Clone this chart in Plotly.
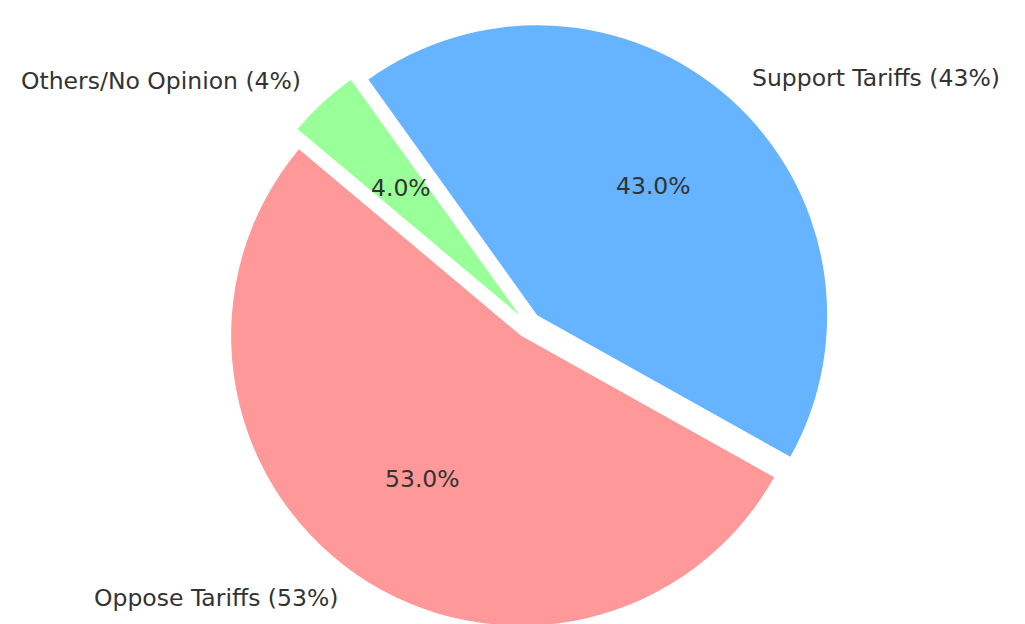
import math
import plotly.graph_objects as go

# ---- data ----
labels = ["Oppose Tariffs (53%)", "Support Tariffs (43%)", "Others/No Opinion (4%)"]
values = [53, 43, 4]
colors = ["#ff9999", "#66b3ff", "#99ff99"]
pulls = [0.045, 0.045, 0.045]
start_angle = 140  # degrees, counter-clockwise from 3 o'clock (first slice start)

# the page body has the browser's default 8px margin, so the figure is sized to the
# remaining viewport width; its bottom edge runs slightly below the visible window
PAGE_OFF = 8
W, H = 1025 - PAGE_OFF, 624
# pie box in figure pixels
BOX_X = (217.5, 823.5)
BOX_Y = (14, 620)  # from top
dom_x = [BOX_X[0] / W, BOX_X[1] / W]
dom_y = [1 - BOX_Y[1] / H, 1 - BOX_Y[0] / H]
FONT = "DejaVu Sans"
TXT = "#333333"
FS = 23.5

total = sum(values)
# plotly (counterclockwise) places the CCW-most edge of the first slice at `rotation`
# (clockwise from 12 o'clock); convert from a matplotlib-style start angle
first_end = start_angle + 360 * values[0] / total
rotation = 90 - first_end
while rotation < -360:
    rotation += 360

fig = go.Figure(go.Pie(
    labels=labels,
    values=values,
    marker=dict(colors=colors, line=dict(width=0)),
    pull=pulls,
    sort=False,
    direction="counterclockwise",
    rotation=rotation,
    textinfo="none",
    hoverinfo="label+percent",
    showlegend=False,
    domain=dict(x=dom_x, y=dom_y),
))

# geometry consistent with plotly's pie layout (margins are 0)
box_w = W * (dom_x[1] - dom_x[0])
box_h = H * (dom_y[1] - dom_y[0])
r = min(box_w, box_h) / 2 / (1 + max(pulls))
cx = W * (dom_x[0] + dom_x[1]) / 2
cy_top = H * (1 - dom_y[1]) + box_h / 2  # pixels from top

annotations = []
cum = 0.0
for lab, v, p in zip(labels, values, pulls):
    a0 = start_angle + 360 * cum / total
    cum += v
    a1 = start_angle + 360 * cum / total
    mid = math.radians((a0 + a1) / 2)
    dx, dy = math.cos(mid), math.sin(mid)
    scx = cx + p * r * dx
    scy = cy_top - p * r * dy
    # percentage text
    px_ = scx + 0.6 * r * dx
    py_ = scy - 0.6 * r * dy
    annotations.append(dict(
        x=px_ / W, y=1 - py_ / H, xref="paper", yref="paper",
        text=f"{100 * v / total:.1f}%", showarrow=False,
        xanchor="center", yanchor="middle",
        font=dict(family=FONT, size=FS, color=TXT)))
    # outer label
    lx = scx + 1.1 * r * dx
    ly = scy - 1.1 * r * dy
    annotations.append(dict(
        x=lx / W, y=1 - ly / H, xref="paper", yref="paper",
        text=lab, showarrow=False,
        xanchor="left" if dx > 0 else "right", yanchor="middle",
        font=dict(family=FONT, size=FS, color=TXT)))

fig.update_layout(
    width=W, height=H,
    margin=dict(l=0, r=0, t=0, b=0),
    paper_bgcolor="white",
    plot_bgcolor="white",
    annotations=annotations,
)

fig.write_html("out.html")
